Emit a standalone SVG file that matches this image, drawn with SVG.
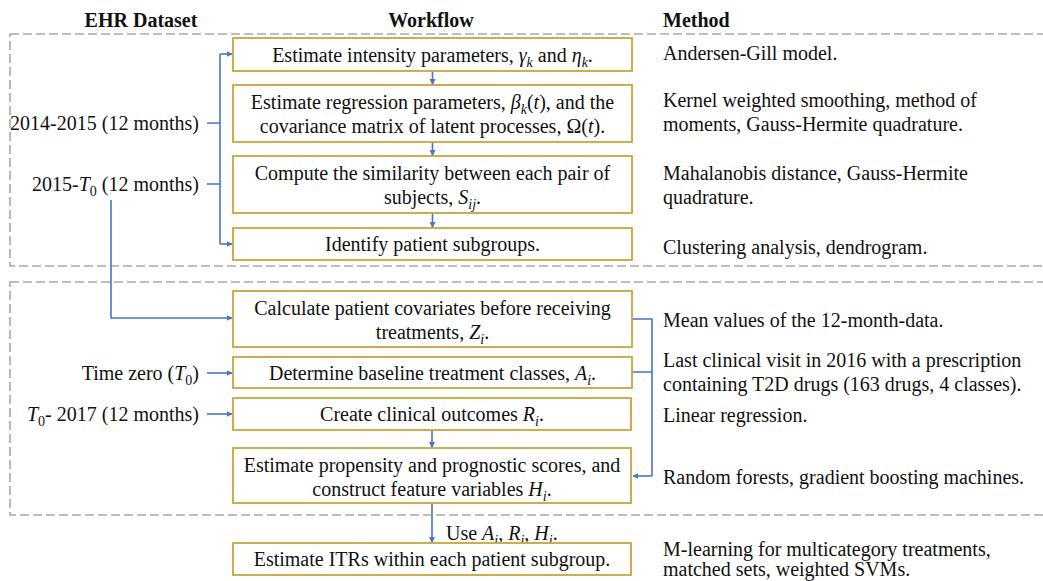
<svg xmlns="http://www.w3.org/2000/svg" width="1043" height="581" viewBox="0 0 1043 581">
  <defs>
    <style>
      text { font-family: "Liberation Serif", "Times New Roman", serif; font-size: 20px; fill: #111; }
      .hd { font-weight: bold; }
      .c { text-anchor: middle; }
      .r { text-anchor: end; }
      .m { font-style: italic; }
      .s { font-size: 14px; }
      .box { fill: #fff; stroke: #C9A53A; stroke-width: 1.8; }
      .frame { fill: none; stroke: #A8A8A8; stroke-width: 1.6; stroke-dasharray: 9 4; }
      .wire { fill: none; stroke: #4A74C4; stroke-width: 1.6; }
      .arr { marker-end: url(#ah); }
    </style>
    <marker id="ah" viewBox="0 0 10 10" refX="9" refY="5" markerWidth="6" markerHeight="6" markerUnits="userSpaceOnUse" orient="auto">
      <path d="M0,0 L10,5 L0,10 z" fill="#4A74C4"/>
    </marker>
  </defs>

  <!-- column headings -->
  <g id="headings">
    <text class="hd c" x="141" y="27">EHR Dataset</text>
    <text class="hd c" x="431" y="27">Workflow</text>
    <text class="hd" x="663" y="27">Method</text>
  </g>

  <!-- dashed stage frames (open past the right edge) -->
  <g id="frames">
    <rect class="frame" x="10" y="34" width="1050" height="232"/>
    <rect class="frame" x="10" y="282" width="1050" height="233"/>
  </g>

  <!-- connectors -->
  <g id="connectors">
    <path class="wire" d="M207,123 H220 M207,184 H220 M220,54 V244"/>
    <path class="wire arr" d="M220,54 H232"/>
    <path class="wire arr" d="M220,244 H232"/>
    <path class="wire arr" d="M111,200 V318 H232"/>
    <path class="wire arr" d="M207,373 H232"/>
    <path class="wire arr" d="M207,414 H232"/>
    <path class="wire arr" d="M432.5,71 V84.5"/>
    <path class="wire arr" d="M432.5,142 V155.5"/>
    <path class="wire arr" d="M432.5,213 V227.5"/>
    <path class="wire arr" d="M432,430 V447.5"/>
    <path class="wire arr" d="M432,503 V542.5"/>
    <path class="wire" d="M632,319 H652 V476 M632,372 H652"/>
    <path class="wire arr" d="M652,476 H633"/>
    <text x="446" y="540">Use <tspan class="m">A</tspan><tspan class="m s" dy="5">i</tspan><tspan dy="-5">, </tspan><tspan class="m">R</tspan><tspan class="m s" dy="5">i</tspan><tspan dy="-5">, </tspan><tspan class="m">H</tspan><tspan class="m s" dy="5">i</tspan><tspan dy="-5">.</tspan></text>
  </g>

  <!-- data-period labels -->
  <g id="data-periods">
    <text class="r" x="199" y="130">2014-2015 (12 months)</text>
    <text class="r" x="199" y="191">2015-<tspan class="m">T</tspan><tspan class="s" dy="5">0</tspan><tspan dy="-5"> (12 months)</tspan></text>
    <text class="r" x="199" y="380">Time zero (<tspan class="m">T</tspan><tspan class="s" dy="5">0</tspan><tspan dy="-5">)</tspan></text>
    <text class="r" x="199" y="421"><tspan class="m">T</tspan><tspan class="s" dy="5">0</tspan><tspan dy="-5">- 2017 (12 months)</tspan></text>
  </g>

  <!-- workflow steps -->
  <g id="step-intensity">
    <rect class="box" x="233" y="38" width="399" height="33"/>
    <text class="c" x="432.5" y="62">Estimate intensity parameters, <tspan class="m">γ</tspan><tspan class="m s" dy="5">k</tspan><tspan dy="-5"> and </tspan><tspan class="m">η</tspan><tspan class="m s" dy="5">k</tspan><tspan dy="-5">.</tspan></text>
  </g>
  <g id="step-regression">
    <rect class="box" x="233" y="85" width="399" height="57"/>
    <text class="c" x="432.5" y="109">Estimate regression parameters, <tspan class="m">β</tspan><tspan class="m s" dy="5">k</tspan><tspan dy="-5">(</tspan><tspan class="m">t</tspan><tspan>), and the</tspan></text>
    <text class="c" x="432.5" y="133">covariance matrix of latent processes, Ω(<tspan class="m">t</tspan>).</text>
  </g>
  <g id="step-similarity">
    <rect class="box" x="233" y="156" width="399" height="57"/>
    <text class="c" x="432.5" y="180">Compute the similarity between each pair of</text>
    <text class="c" x="432.5" y="204">subjects, <tspan class="m">S</tspan><tspan class="m s" dy="5">ij</tspan><tspan dy="-5">.</tspan></text>
  </g>
  <g id="step-subgroups">
    <rect class="box" x="233" y="228" width="399" height="32"/>
    <text class="c" x="432.5" y="251">Identify patient subgroups.</text>
  </g>
  <g id="step-covariates">
    <rect class="box" x="233" y="291" width="399" height="56"/>
    <text class="c" x="432.5" y="315">Calculate patient covariates before receiving</text>
    <text class="c" x="432.5" y="339">treatments, <tspan class="m">Z</tspan><tspan class="m s" dy="5">i</tspan><tspan dy="-5">.</tspan></text>
  </g>
  <g id="step-baseline">
    <rect class="box" x="233" y="357" width="399" height="31"/>
    <text class="c" x="432.5" y="380">Determine baseline treatment classes, <tspan class="m">A</tspan><tspan class="m s" dy="5">i</tspan><tspan dy="-5">.</tspan></text>
  </g>
  <g id="step-outcomes">
    <rect class="box" x="233" y="398" width="398" height="32"/>
    <text class="c" x="432" y="421">Create clinical outcomes <tspan class="m">R</tspan><tspan class="m s" dy="5">i</tspan><tspan dy="-5">.</tspan></text>
  </g>
  <g id="step-scores">
    <rect class="box" x="233" y="448" width="398" height="55"/>
    <text class="c" x="432" y="472">Estimate propensity and prognostic scores, and</text>
    <text class="c" x="432" y="496">construct feature variables <tspan class="m">H</tspan><tspan class="m s" dy="5">i</tspan><tspan dy="-5">.</tspan></text>
  </g>
  <g id="step-itr">
    <rect class="box" x="233" y="543" width="398" height="32"/>
    <text class="c" x="432" y="566">Estimate ITRs within each patient subgroup.</text>
  </g>

  <!-- methods column -->
  <g id="methods">
    <text x="663" y="60">Andersen-Gill model.</text>
    <text x="663" y="107">Kernel weighted smoothing, method of</text>
    <text x="663" y="131">moments, Gauss-Hermite quadrature.</text>
    <text x="663" y="180">Mahalanobis distance, Gauss-Hermite</text>
    <text x="663" y="204">quadrature.</text>
    <text x="663" y="254">Clustering analysis, dendrogram.</text>
    <text x="663" y="327">Mean values of the 12-month-data.</text>
    <text x="663" y="367">Last clinical visit in 2016 with a prescription</text>
    <text x="663" y="391">containing T2D drugs (163 drugs, 4 classes).</text>
    <text x="663" y="422">Linear regression.</text>
    <text x="663" y="484">Random forests, gradient boosting machines.</text>
    <text x="663" y="556">M-learning for multicategory treatments,</text>
    <text x="663" y="576">matched sets, weighted SVMs.</text>
  </g>
</svg>
